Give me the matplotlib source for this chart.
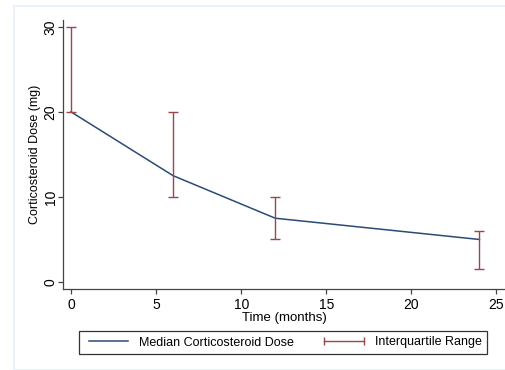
import matplotlib.pyplot as plt
from matplotlib.lines import Line2D
from matplotlib.patches import Rectangle

# Datos
meses = [0, 6, 12, 24]
mediana = [20, 12.5, 7.5, 5]
iqr_bajo = [20, 10, 5, 1.5]
iqr_alto = [30, 20, 10, 6]

azul = '#2b4a75'
granate = '#98474c'

plt.rcParams['font.family'] = ['Liberation Sans', 'DejaVu Sans']

fig = plt.figure(figsize=(5.06, 3.70), dpi=100)
W, H = 506, 370
ax = fig.add_axes([63 / W, 1 - 289 / H, (505 - 63) / W, (289 - 20) / H])

# marco exterior tenue
fig.patches.append(Rectangle((14 / W, 0), 1, 1 - 6 / H, transform=fig.transFigure,
                             fill=False, edgecolor='#e8f0f8', linewidth=1.2))

ax.plot(meses, mediana, color=azul, linewidth=1.1)
err = [[m - b for m, b in zip(mediana, iqr_bajo)], [a - m for m, a in zip(mediana, iqr_alto)]]
ax.errorbar(meses, mediana, yerr=err, fmt='none', ecolor=granate, elinewidth=1.0,
            capsize=3.5, capthick=1.0)

ax.set_xlim(-0.47, 25.5)
ax.set_ylim(-0.82, 30.8)
ax.set_xticks([0, 5, 10, 15, 20, 25])
ax.set_yticks([0, 10, 20, 30])
ax.spines['top'].set_visible(False)
ax.spines['right'].set_visible(False)
for s in ['left', 'bottom']:
    ax.spines[s].set_color('#444444')
    ax.spines[s].set_linewidth(0.9)
ax.tick_params(direction='out', length=3.8, width=0.9, color='#444444', labelsize=10)
ax.tick_params(axis='x', pad=3)
ax.tick_params(axis='y', pad=0)
for lab in ax.get_yticklabels():
    lab.set_rotation(90)
    lab.set_va('center')

ax.set_xlabel('Time (months)', fontsize=9.5, labelpad=0)
ax.set_ylabel('Corticosteroid Dose (mg)', fontsize=9)
ax.yaxis.set_label_coords(-0.049, 0.5)

h1 = Line2D([0, 1], [0, 0], color=azul, linewidth=1.1)
h2 = Line2D([0, 1], [0, 0], color=granate, linewidth=1.0, marker='|', markersize=6,
            markeredgewidth=1.0)
leg = fig.legend([h1, h2], ['Median Corticosteroid Dose', 'Interquartile Range'],
                 loc='center', bbox_to_anchor=(283.5 / W, 1 - 342.5 / H), ncol=2,
                 fontsize=9, numpoints=2, handlelength=3.75, columnspacing=2.1,
                 fancybox=False, framealpha=1, edgecolor='#333333',
                 borderpad=0.45, handletextpad=0.6)
leg.get_frame().set_linewidth(0.9)

fig.savefig('out.png', dpi=100)
